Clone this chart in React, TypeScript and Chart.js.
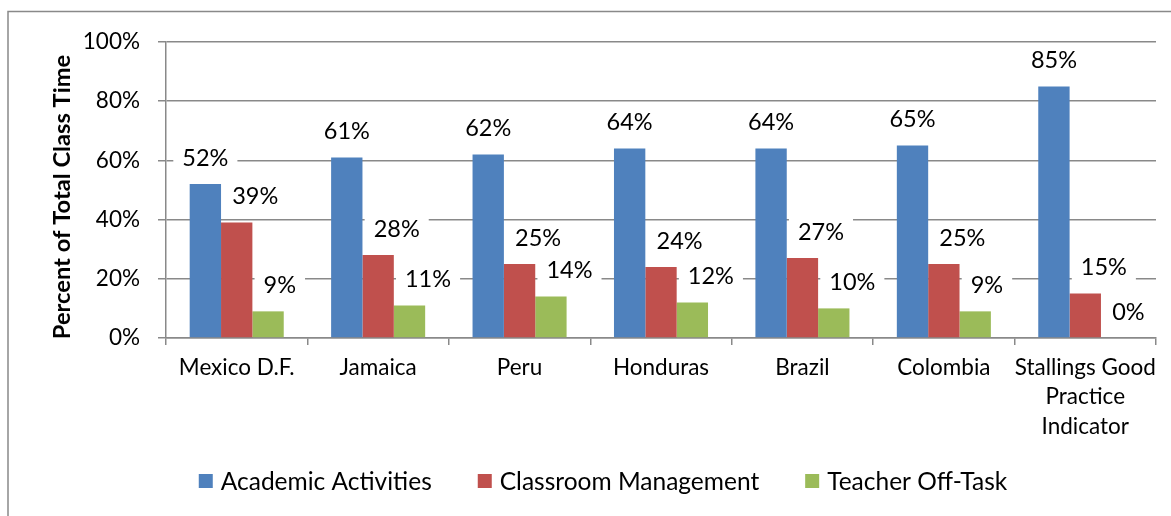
import React, { useEffect, useRef } from 'react';
import { Chart, registerables } from 'chart.js';

Chart.register(...registerables);

const categories: string[][] = [
  ['Mexico D.F.'],
  ['Jamaica'],
  ['Peru'],
  ['Honduras'],
  ['Brazil'],
  ['Colombia'],
  ['Stallings Good', 'Practice', 'Indicator'],
];
const seriesNames = ['Academic Activities', 'Classroom Management', 'Teacher Off-Task'];
const academicActivities = [52, 61, 62, 64, 64, 65, 85];
const classroomManagement = [39, 28, 25, 24, 27, 25, 15];
const teacherOffTask = [9, 11, 14, 12, 10, 9, 0];
const seriesColors = ['#4F81BD', '#C0504D', '#9BBB59'];
const yTickValues = [0, 20, 40, 60, 80, 100];
const yTitle = 'Percent of Total Class Time';

const FONT = 'Lato, "Open Sans", sans-serif';
const GRID = '#898989';
const TICK_FS = 22.5;
const LABEL_FS = 23.5;
const LEGEND_FS = 24.5;
const TITLE_FS = 23.7;

function labelBox(ctx: CanvasRenderingContext2D, el: any, text: string, di: number) {
  const tw = ctx.measureText(text).width;
  const cy = el.y - 26;
  const left = di === 0 ? el.x - tw / 2 : el.x - 4.5;
  return { tw, cy, left };
}

export default function App() {
  const ref = useRef<HTMLCanvasElement>(null);

  useEffect(() => {
    document.body.style.margin = '0';
    const canvas = ref.current!;

    const decor = {
      id: 'decor',
      beforeDraw(chart: any) {
        const ctx = chart.ctx;
        ctx.save();
        ctx.fillStyle = '#ffffff';
        ctx.fillRect(0, 0, chart.width, chart.height);
        ctx.strokeStyle = GRID;
        ctx.lineWidth = 1.5;
        ctx.beginPath();
        ctx.moveTo(8, chart.height);
        ctx.lineTo(8, 11.5);
        ctx.lineTo(chart.width, 11.5);
        ctx.stroke();
        ctx.restore();
      },
      beforeDatasetsDraw(chart: any) {
        const ctx = chart.ctx;
        ctx.save();
        ctx.font = `${LABEL_FS}px ${FONT}`;
        ctx.fillStyle = '#ffffff';
        chart.data.datasets.forEach((ds: any, di: number) => {
          const meta = chart.getDatasetMeta(di);
          meta.data.forEach((el: any, i: number) => {
            const text = ds.data[i] + '%';
            const { tw, cy, left } = labelBox(ctx, el, text, di);
            ctx.fillRect(left - 9, cy - 14, tw + 18, 28);
          });
        });
        ctx.restore();
      },
      afterDatasetsDraw(chart: any) {
        const ctx = chart.ctx;
        ctx.save();
        ctx.font = `${LABEL_FS}px ${FONT}`;
        ctx.fillStyle = '#000000';
        ctx.textBaseline = 'middle';
        ctx.textAlign = 'left';
        chart.data.datasets.forEach((ds: any, di: number) => {
          const meta = chart.getDatasetMeta(di);
          meta.data.forEach((el: any, i: number) => {
            const text = ds.data[i] + '%';
            const { cy, left } = labelBox(ctx, el, text, di);
            ctx.fillText(text, left, cy);
          });
        });
        ctx.restore();
      },
      afterDraw(chart: any) {
        const ctx = chart.ctx;
        ctx.save();
        ctx.font = `bold ${TITLE_FS}px ${FONT}`;
        ctx.fillStyle = '#000000';
        ctx.textAlign = 'center';
        ctx.textBaseline = 'middle';
        ctx.translate(62, 197);
        ctx.rotate(-Math.PI / 2);
        ctx.fillText(yTitle, 0, 0);
        ctx.restore();

        ctx.save();
        ctx.font = `${LEGEND_FS}px ${FONT}`;
        ctx.textBaseline = 'middle';
        ctx.textAlign = 'left';
        const box = 14;
        const gapAfterBox = 8;
        const itemGap = 46;
        const widths = seriesNames.map((n) => ctx.measureText(n).width);
        const total =
          widths.reduce((a, b) => a + b, 0) + seriesNames.length * (box + gapAfterBox) + itemGap * (seriesNames.length - 1);
        let x = 603 - total / 2;
        const y = 481;
        seriesNames.forEach((n, i) => {
          ctx.fillStyle = seriesColors[i];
          ctx.fillRect(x, y - box / 2, box, box);
          x += box + gapAfterBox;
          ctx.fillStyle = '#000000';
          ctx.fillText(n, x, y + 1);
          x += widths[i] + itemGap;
        });
        ctx.restore();
      },
    };

    const chart = new Chart(canvas, {
      type: 'bar',
      data: {
        labels: categories,
        datasets: [
          { label: seriesNames[0], data: academicActivities, backgroundColor: seriesColors[0] },
          { label: seriesNames[1], data: classroomManagement, backgroundColor: seriesColors[1] },
          { label: seriesNames[2], data: teacherOffTask, backgroundColor: seriesColors[2] },
        ],
      },
      options: {
        responsive: false,
        animation: false,
        devicePixelRatio: 1,
        layout: { padding: { top: 42, right: 15, left: 0, bottom: 0 } },
        datasets: {
          bar: { categoryPercentage: 0.665, barPercentage: 1, borderWidth: 0 },
        },
        plugins: {
          legend: { display: false },
          tooltip: { enabled: false },
          title: { display: false },
        },
        scales: {
          x: {
            offset: true,
            grid: {
              offset: true,
              drawOnChartArea: false,
              drawTicks: true,
              tickLength: 7,
              color: GRID,
              lineWidth: 1.5,
            },
            border: { display: true, color: GRID, width: 1.5 },
            ticks: {
              color: '#000000',
              font: { family: FONT, size: TICK_FS, lineHeight: 1.31 },
              padding: 8,
              maxRotation: 0,
              autoSkip: false,
            },
            afterFit(scale: any) {
              scale.height = 178;
            },
          },
          y: {
            min: 0,
            max: 100,
            afterBuildTicks(scale: any) {
              scale.ticks = yTickValues.map((v) => ({ value: v }));
            },
            grid: {
              color: GRID,
              lineWidth: 1.5,
              drawTicks: true,
              tickLength: 8,
            },
            border: { display: true, color: GRID, width: 1.5 },
            ticks: {
              color: '#000000',
              font: { family: FONT, size: TICK_FS },
              padding: 18,
              callback: (v: any) => v + '%',
            },
            afterFit(scale: any) {
              scale.width = 166;
            },
          },
        },
      },
      plugins: [decor],
    });

    return () => chart.destroy();
  }, []);

  return (
    <div style={{ width: 1171, height: 516 }}>
      <canvas ref={ref} width={1171} height={516} style={{ display: 'block', width: 1171, height: 516 }} />
    </div>
  );
}
